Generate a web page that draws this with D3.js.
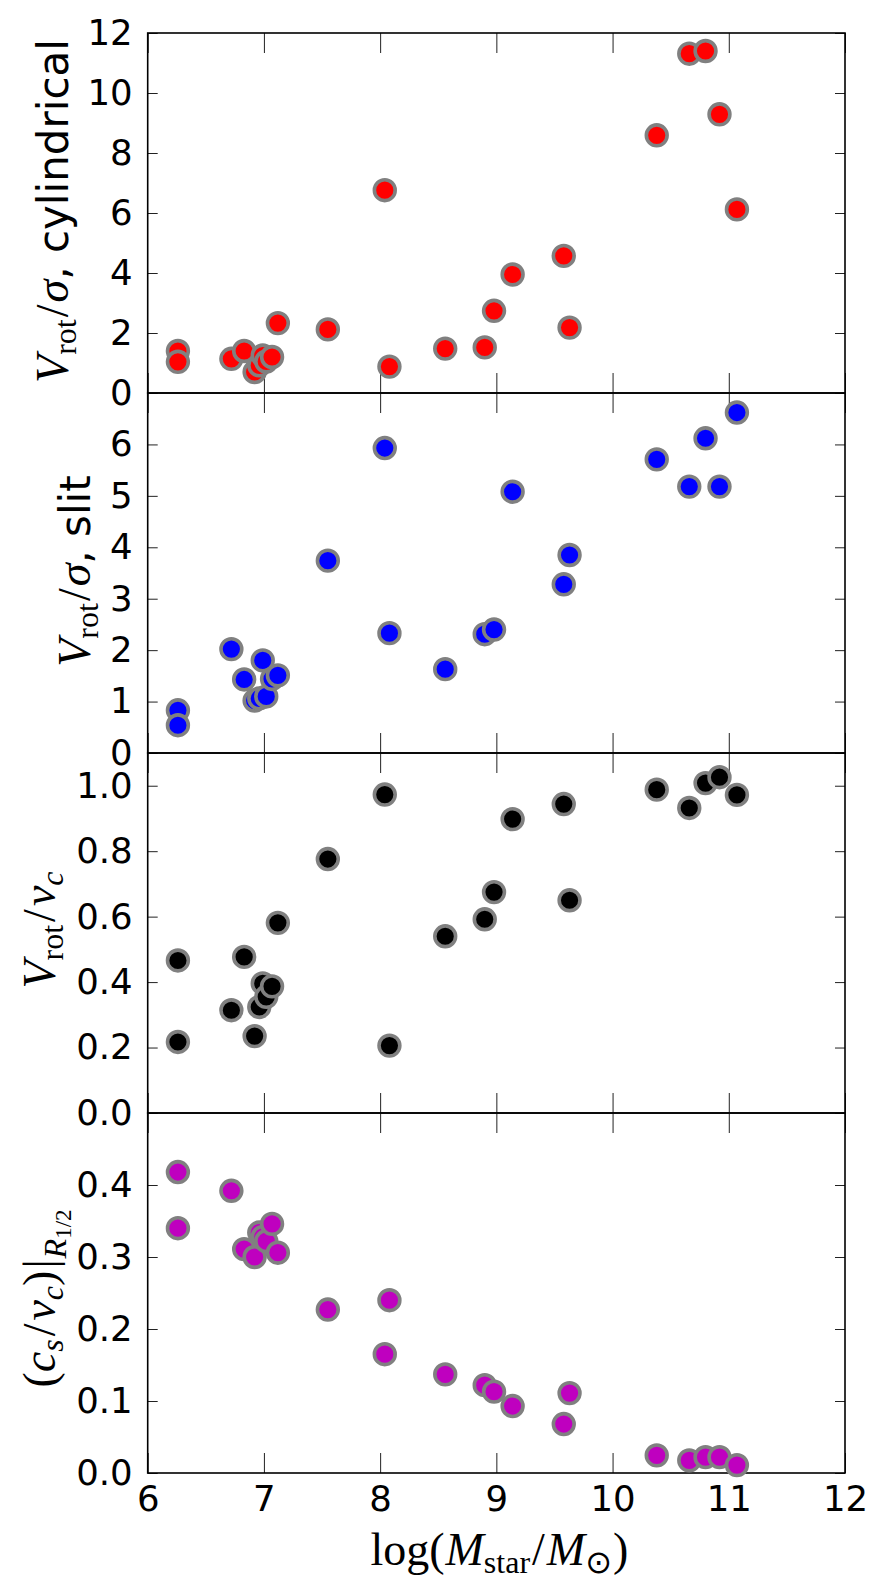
<!DOCTYPE html>
<html>
<head>
<meta charset="utf-8">
<script src="https://cdn.jsdelivr.net/npm/d3@7"></script>
<style>
  body { margin: 0; background: #fff; }
  svg { display: block; }
</style>
</head>
<body>
<div id="chart"></div>
<script>
// log stellar mass of each galaxy
const logMass = [6.26, 6.26, 6.72, 6.83, 6.92, 6.96, 6.99, 7.02, 7.07, 7.12, 7.55, 8.04,
  8.08, 8.56, 8.90, 8.98, 9.14, 9.58, 9.63, 10.38, 10.66, 10.80, 10.92, 11.07];

const vsigCyl = [1.40, 1.04, 1.14, 1.40, 0.70, 0.92, 1.25, 1.05, 1.20, 2.33, 2.12, 6.76,
  0.88, 1.48, 1.52, 2.74, 3.95, 4.57, 2.18, 8.59, 11.31, 11.40, 9.29, 6.12];

const vsigSlit = [0.83, 0.54, 2.02, 1.43, 1.02, 1.06, 1.80, 1.10, 1.44, 1.51, 3.74, 5.93,
  2.33, 1.63, 2.31, 2.40, 5.08, 3.28, 3.85, 5.71, 5.18, 6.12, 5.18, 6.62];

const vrotVc = [0.466, 0.217, 0.314, 0.477, 0.235, 0.324, 0.396, 0.355, 0.387, 0.581, 0.776, 0.973,
  0.206, 0.54, 0.592, 0.675, 0.898, 0.944, 0.650, 0.988, 0.932, 1.008, 1.026, 0.972];

const csVc = [0.418, 0.340, 0.392, 0.311, 0.300, 0.334, 0.328, 0.322, 0.346, 0.306, 0.227, 0.165,
  0.240, 0.137, 0.122, 0.113, 0.093, 0.068, 0.111, 0.0245, 0.0176, 0.022, 0.022, 0.011];

const xTicks = [6, 7, 8, 9, 10, 11, 12];
const ticksCyl = [0, 2, 4, 6, 8, 10, 12];
const ticksSlit = [0, 1, 2, 3, 4, 5, 6];
const ticksVc = [0, 0.2, 0.4, 0.6, 0.8, 1.0];
const ticksCs = [0, 0.1, 0.2, 0.3, 0.4];

const WIDTH_ALL = 884, HEIGHT_ALL = 1590;
const MARGIN = { LEFT: 147.7, RIGHT: 39, TOP: 33 };
const WIDTH = WIDTH_ALL - MARGIN.LEFT - MARGIN.RIGHT;
const PANEL_H = 360;

const panels = [
  { values: vsigCyl, color: "#ff0000", max: 12, ticks: ticksCyl, fmt: d3.format("d"), labelX: 68, labelY: 0 },
  { values: vsigSlit, color: "#0000ff", max: 7, ticks: ticksSlit, fmt: d3.format("d"), labelX: 90, labelY: 0 },
  { values: vrotVc, color: "#000000", max: 1.1, ticks: ticksVc, fmt: d3.format(".1f"), labelX: 55, labelY: 0 },
  { values: csVc, color: "#bf00bf", max: 0.5, ticks: ticksCs, fmt: d3.format(".1f"), labelX: 55, labelY: 10 }
];

const svg = d3.select("#chart").append("svg")
  .attr("width", WIDTH_ALL)
  .attr("height", HEIGHT_ALL);

svg.append("rect")
  .attr("width", WIDTH_ALL)
  .attr("height", HEIGHT_ALL)
  .attr("fill", "#fff");

const x = d3.scaleLinear()
  .domain([6, 12])
  .range([0, WIDTH]);

const SERIF = "'Liberation Serif', 'DejaVu Serif', serif";
const SANS = "'DejaVu Sans', sans-serif";
const MATH = "46px", SUB = "32px", SUBSUB = "23px";

// small helper for math pieces
function mt(t, txt, opt = {}) {
  const s = t.append("tspan")
    .attr("font-family", opt.sans ? SANS : SERIF)
    .attr("font-size", opt.size || MATH)
    .text(txt);
  if (opt.it) s.attr("font-style", "italic");
  if (opt.dy) s.attr("dy", opt.dy);
  if (opt.dx) s.attr("dx", opt.dx);
  return s;
}

// centre a text by its measured length (tspans with dx/dy can split anchor chunks)
function centre(t) {
  const len = t.node().getComputedTextLength();
  t.attr("text-anchor", "start").attr("x", -len / 2);
}

// y labels, one builder per panel (mixed math + plain text)
const labelBuilders = [
  t => {
    mt(t, "V", { it: true });
    mt(t, "rot", { size: SUB, dy: 8 });
    mt(t, "/", { dy: -8, dx: 2 });
    mt(t, "σ", { it: true, dx: 2 });
    mt(t, ", cylindrical", { sans: true, size: "42px" });
  },
  t => {
    mt(t, "V", { it: true });
    mt(t, "rot", { size: SUB, dy: 8 });
    mt(t, "/", { dy: -8, dx: 2 });
    mt(t, "σ", { it: true, dx: 2 });
    mt(t, ", slit", { sans: true, size: "42px" });
  },
  t => {
    mt(t, "V", { it: true });
    mt(t, "rot", { size: SUB, dy: 8 });
    mt(t, "/", { dy: -8, dx: 3 });
    mt(t, "v", { it: true, dx: 3 });
    mt(t, "c", { it: true, size: SUB, dy: 8 });
  },
  t => {
    mt(t, "(");
    mt(t, "c", { it: true });
    mt(t, "s", { it: true, size: SUB, dy: 8 });
    mt(t, "/", { dy: -8, dx: 3 });
    mt(t, "v", { it: true, dx: 3 });
    mt(t, "c", { it: true, size: SUB, dy: 8 });
    mt(t, ")", { dy: -8 });
    mt(t, "|", { dx: 2 });
    mt(t, "R", { it: true, size: SUB, dy: 11, dx: 1 });
    mt(t, "1/2", { size: SUBSUB, dy: 5 });
  }
];

panels.forEach((p, i) => {
  const top = MARGIN.TOP + i * PANEL_H;
  const g = svg.append("g")
    .attr("transform", `translate(${MARGIN.LEFT}, ${top})`);

  const y = d3.scaleLinear()
    .domain([0, p.max])
    .range([PANEL_H, 0]);

  // ticks on all four sides, pointing in
  const yAxisCall = d3.axisLeft(y).tickValues(p.ticks).tickFormat(p.fmt)
    .tickSize(-10).tickSizeOuter(0).tickPadding(15);
  g.append("g").attr("class", "y axis").call(yAxisCall);

  g.append("g").attr("class", "y axis right")
    .attr("transform", `translate(${WIDTH}, 0)`)
    .call(d3.axisRight(y).tickValues(p.ticks).tickFormat("").tickSize(-10).tickSizeOuter(0));

  g.append("g").attr("class", "x axis top")
    .call(d3.axisTop(x).tickValues(xTicks).tickFormat("").tickSize(-20).tickSizeOuter(0));

  const last = i === panels.length - 1;
  const xAxisCall = d3.axisBottom(x).tickValues(xTicks)
    .tickFormat(last ? d3.format("d") : "")
    .tickSize(-20).tickSizeOuter(0).tickPadding(13);
  g.append("g").attr("class", "x axis")
    .attr("transform", `translate(0, ${PANEL_H})`)
    .call(xAxisCall);

  g.selectAll(".domain").remove();
  g.selectAll(".tick line").attr("stroke", "#222").attr("stroke-width", 1);
  g.selectAll(".tick text")
    .attr("font-family", SANS)
    .attr("font-size", "35.5px")
    .attr("fill", "#000");

  g.append("rect")
    .attr("width", WIDTH)
    .attr("height", PANEL_H)
    .attr("fill", "none")
    .attr("stroke", "#000")
    .attr("stroke-width", 1.6);

  g.selectAll("circle")
    .data(p.values)
    .enter().append("circle")
    .attr("cx", (d, j) => x(logMass[j]))
    .attr("cy", d => y(d))
    .attr("r", 10.4)
    .attr("fill", p.color)
    .attr("stroke", "#808080")
    .attr("stroke-width", 3.6);

  // y label
  const lab = svg.append("text")
    .attr("transform", `translate(${p.labelX}, ${top + PANEL_H / 2 + p.labelY}) rotate(-90)`)
    .attr("fill", "#000");
  labelBuilders[i](lab);
  centre(lab);
});

// x label
const xl = svg.append("text")
  .attr("transform", `translate(${MARGIN.LEFT + WIDTH / 2}, 1565)`)
  .attr("fill", "#000");
mt(xl, "log(");
mt(xl, "M", { it: true, dx: 1 });
mt(xl, "star", { size: SUB, dy: 8 });
mt(xl, "/", { dy: -8, dx: 2 });
mt(xl, "M", { it: true, dx: 2 });
mt(xl, "⊙", { sans: true, size: SUB, dy: 8 });
mt(xl, ")", { dy: -8, dx: 1 });
centre(xl);
</script>
</body>
</html>
